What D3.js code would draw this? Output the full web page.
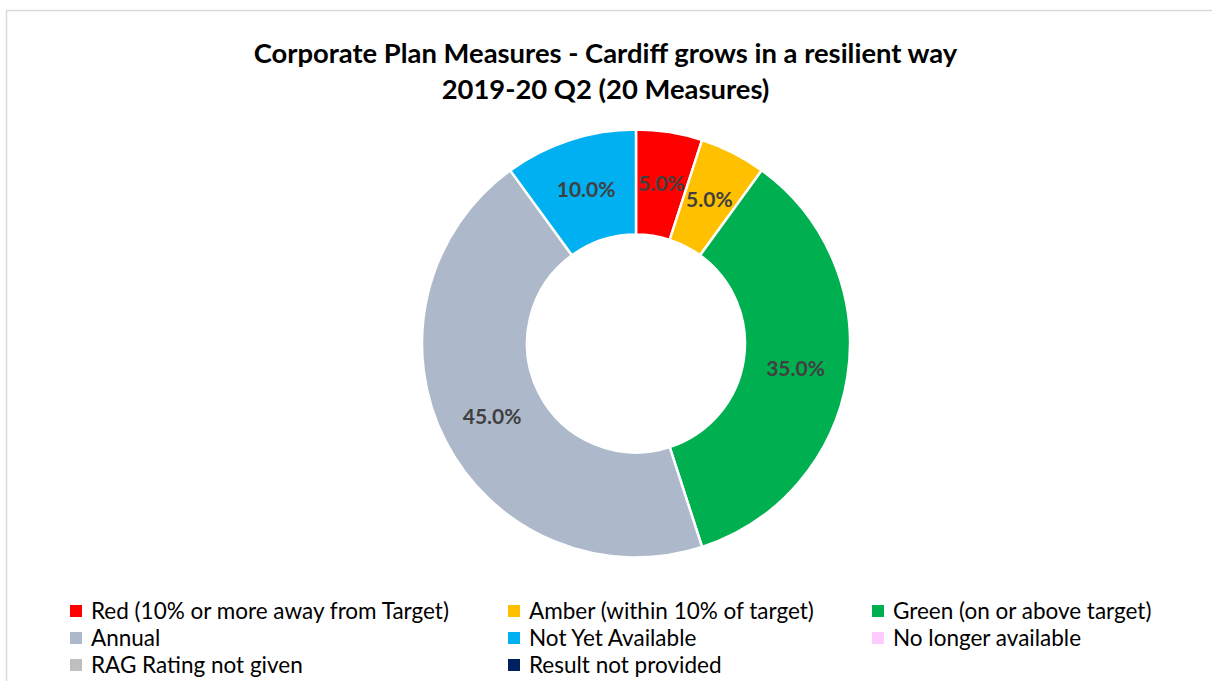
<!DOCTYPE html>
<html lang="en">
<head>
    <meta charset="UTF-8">
    <title>Corporate Plan Measures</title>
    <script src="https://d3js.org/d3.v7.min.js"></script>
    <style>
        body {
            margin: 0;
            padding: 0;
            background: #fff;
            font-family: 'Lato', 'Open Sans', sans-serif;
        }
        .title {
            font-weight: bold;
            font-size: 27.4px;
            fill: #000;
        }
        .label {
            font-weight: bold;
            font-size: 21px;
            fill: #404040;
        }
        .legend text {
            font-size: 22.5px;
            fill: #000;
        }
    </style>
</head>
<body>
    <svg id="chart" width="1212" height="681"></svg>
    <script>
        const categories = [
            "Red (10% or more away from Target)",
            "Amber (within 10% of target)",
            "Green (on or above target)",
            "Annual",
            "Not Yet Available",
            "No longer available",
            "RAG Rating not given",
            "Result not provided"
        ];
        const values = [5, 5, 35, 45, 10, 0, 0, 0];
        const colors = ["#ff0000", "#ffc000", "#00b050", "#adb9ca", "#00b0f0", "#ffccff", "#bfbfbf", "#002060"];
        const titleLines = ["Corporate Plan Measures - Cardiff grows in a resilient way", "2019-20 Q2 (20 Measures)"];

        const svg = d3.select("#chart");

        // chart frame
        svg.append("rect")
            .attr("x", 6.5).attr("y", 10.5)
            .attr("width", 1220).attr("height", 700)
            .attr("fill", "none")
            .attr("stroke", "#d9d9d9")
            .attr("stroke-width", 1.5);

        // title
        svg.selectAll(".title")
            .data(titleLines)
            .enter()
            .append("text")
            .attr("class", "title")
            .attr("x", 605.5)
            .attr("y", (d, i) => 63 + i * 36)
            .attr("text-anchor", "middle")
            .text(d => d);

        const cx = 636, cy = 343.5;
        const outerR = 214, innerR = 109;
        const total = d3.sum(values);

        const pie = d3.pie().sort(null).value(d => d.value);
        const data = categories.map((c, i) => ({ name: c, value: values[i], color: colors[i] }));
        const arcs = pie(data);

        const arc = d3.arc().innerRadius(innerR).outerRadius(outerR);
        const labelArc = d3.arc().innerRadius((innerR + outerR) / 2).outerRadius((innerR + outerR) / 2);

        const g = svg.append("g").attr("transform", `translate(${cx},${cy})`);

        g.selectAll("path")
            .data(arcs.filter(d => d.data.value > 0))
            .enter()
            .append("path")
            .attr("d", arc)
            .attr("fill", d => d.data.color)
            .attr("stroke", "#fff")
            .attr("stroke-width", 2.5);

        g.selectAll(".label")
            .data(arcs.filter(d => d.data.value > 0))
            .enter()
            .append("text")
            .attr("class", "label")
            .attr("transform", d => `translate(${labelArc.centroid(d)})`)
            .attr("text-anchor", "middle")
            .attr("dy", "0.35em")
            .text(d => d3.format(".1%")(d.data.value / total));

        // legend, 3 columns
        const colX = [70, 508, 872];
        const rowY = [611, 638, 665];
        const legend = svg.append("g").attr("class", "legend");
        data.forEach((d, i) => {
            const x = colX[i % 3], y = rowY[Math.floor(i / 3)];
            legend.append("rect")
                .attr("x", x).attr("y", y - 6)
                .attr("width", 12).attr("height", 12)
                .attr("fill", d.color);
            legend.append("text")
                .attr("x", x + 21).attr("y", y)
                .attr("dy", "0.35em")
                .text(d.name);
        });
    </script>
</body>
</html>
